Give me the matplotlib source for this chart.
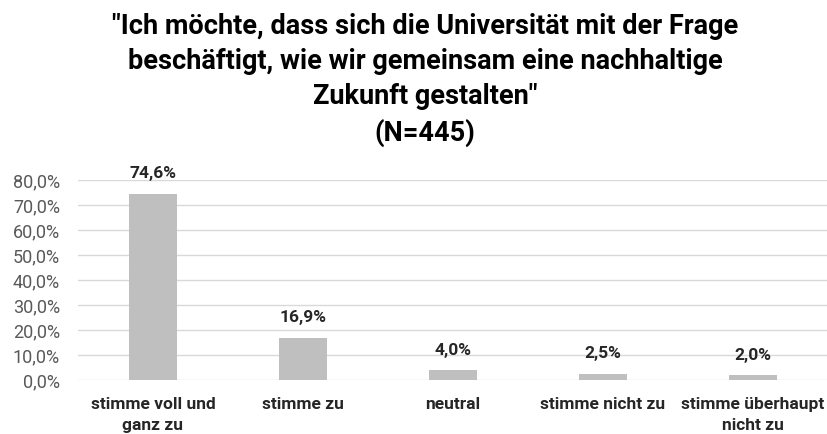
import numpy as np
import matplotlib.pyplot as plt
from matplotlib.ticker import FuncFormatter

categories = ['stimme voll und\nganz zu', 'stimme zu', 'neutral', 'stimme nicht zu', 'stimme überhaupt\nnicht zu']
values = [74.6, 16.9, 4.0, 2.5, 2.0]
title = '"Ich möchte, dass sich die Universität mit der Frage\nbeschäftigt, wie wir gemeinsam eine nachhaltige\nZukunft gestalten"\n(N=445)'

plt.rcParams['font.family'] = ['Roboto', 'DejaVu Sans']

fig = plt.figure(figsize=(8.27, 4.34), dpi=100)
ax = fig.add_axes([78 / 827, 1 - 380 / 434, 750 / 827, 200 / 434])

x = np.arange(len(categories))
ax.bar(x, values, width=0.315, color='#bfbfbf', zorder=3)
for xi, v in zip(x, values):
    ax.annotate(f'{v:.1f}'.replace('.', ',') + '%', (xi, v), xytext=(0, 11),
                textcoords='offset points', ha='center', va='baseline',
                fontsize=12.5, fontweight='bold', color='#262626')

ax.set_xlim(-0.5, len(categories) - 0.5)
ax.set_ylim(0, 80)
ax.set_yticks(np.arange(0, 81, 10))
ax.yaxis.set_major_formatter(FuncFormatter(lambda v, p: f'{v:.1f}'.replace('.', ',') + '%'))
ax.grid(axis='y', color='#d9d9d9', linewidth=1, zorder=0)
for s in ax.spines.values():
    s.set_visible(False)
ax.tick_params(axis='y', length=0, labelsize=13, labelcolor='#595959', pad=13)
ax.tick_params(axis='x', length=0, pad=12)
ax.set_xticks(x)
ax.set_xticklabels(categories, fontsize=12.5, fontweight='bold', color='#262626', linespacing=1.55)

fig.text(425 / 827, 1 - 13 / 434, title, ha='center', va='top', fontsize=19.5, fontweight='bold',
         color='black', linespacing=1.38)

fig.savefig('out.png', dpi=100)
